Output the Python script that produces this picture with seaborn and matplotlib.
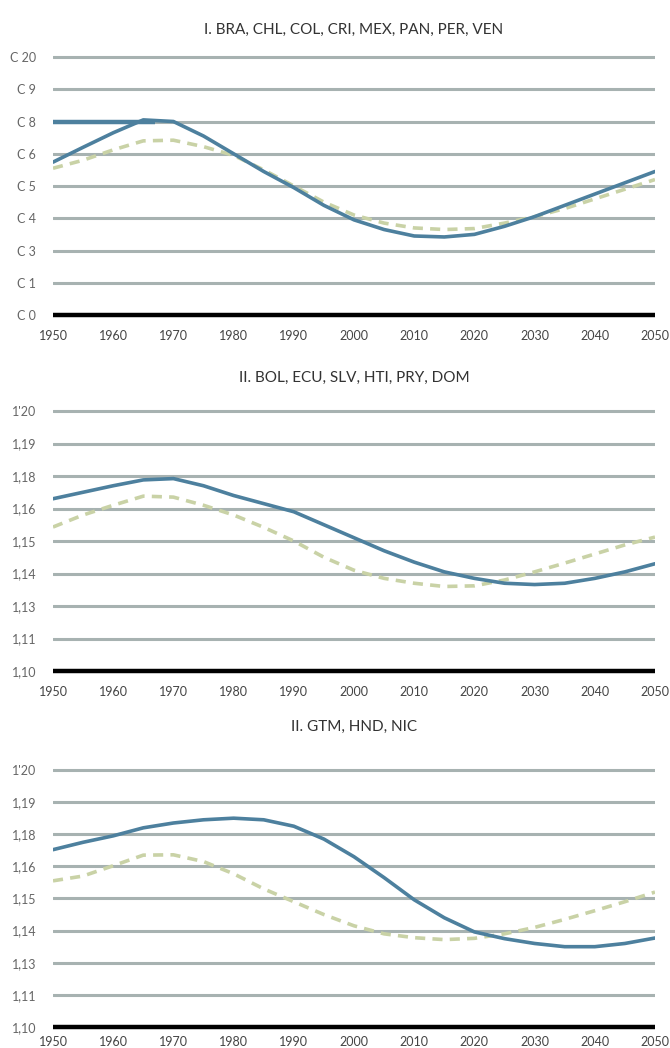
import matplotlib
matplotlib.use("Agg")
import matplotlib.pyplot as plt
import seaborn as sns
import pandas as pd

# panel titles
titles = [
    "I. BRA, CHL, COL, CRI, MEX, PAN, PER, VEN",
    "II. BOL, ECU, SLV, HTI, PRY, DOM",
    "II. GTM, HND, NIC",
]

# tick labels (as printed in the source, bottom to top)
ylabels_1 = ["C 0", "C 1", "C 3", "C 4", "C 5", "C 6", "C 8", "C 9", "C 20"]
ylabels_23 = ["1,10", "1,11", "1,13", "1,14", "1,15", "1,16", "1,18", "1,19", "1'20"]
xticks = [1950, 1960, 1970, 1980, 1990, 2000, 2010, 2020, 2030, 2040, 2050]

# values in gridline units (0 = bottom line, 8 = top line)
years = [1950, 1955, 1960, 1965, 1970, 1975, 1980, 1985, 1990, 1995, 2000,
         2005, 2010, 2015, 2020, 2025, 2030, 2035, 2040, 2045, 2050]

p1_solid = [4.74, 5.20, 5.65, 6.05, 6.00, 5.55, 5.00, 4.45, 3.95, 3.40, 2.95,
            2.65, 2.45, 2.42, 2.50, 2.75, 3.05, 3.40, 3.75, 4.10, 4.45]
p1_dash = [4.55, 4.80, 5.12, 5.40, 5.42, 5.22, 4.95, 4.50, 4.00, 3.50, 3.10,
           2.85, 2.70, 2.65, 2.68, 2.85, 3.05, 3.30, 3.60, 3.90, 4.20]

p2_solid = [5.30, 5.50, 5.70, 5.88, 5.92, 5.70, 5.40, 5.15, 4.90, 4.50, 4.10,
            3.70, 3.35, 3.05, 2.85, 2.70, 2.66, 2.70, 2.85, 3.05, 3.30]
p2_dash = [4.43, 4.80, 5.10, 5.38, 5.35, 5.10, 4.80, 4.42, 4.00, 3.50, 3.10,
           2.85, 2.70, 2.60, 2.62, 2.80, 3.05, 3.32, 3.60, 3.88, 4.12]

p3_solid = [5.52, 5.75, 5.95, 6.20, 6.35, 6.45, 6.50, 6.45, 6.25, 5.85, 5.30,
            4.65, 3.96, 3.40, 2.96, 2.75, 2.60, 2.50, 2.50, 2.60, 2.77]
p3_dash = [4.55, 4.70, 5.02, 5.35, 5.36, 5.15, 4.77, 4.30, 3.90, 3.50, 3.15,
           2.90, 2.78, 2.72, 2.76, 2.90, 3.10, 3.35, 3.62, 3.90, 4.20]

# short blue stretch over the "8" gridline in panel I
p1_flat_years = [1950, 1967]
p1_flat_level = 6

solid_color = "#4d809e"
dash_color = "#c9d2a6"
grid_color = "#a7b2b1"

sns.set_theme(style="white")
plt.rcParams["font.family"] = ["Lato", "DejaVu Sans"]

fig = plt.figure(figsize=(6.7, 10.48), dpi=100)
W, H = 670, 1048

# (top gridline px, bottom line px, ..., title px, x label pad)
panels = [
    (57, 315, p1_solid, p1_dash, ylabels_1, 30, 7),
    (411, 671, p2_solid, p2_dash, ylabels_23, 378, 7),
    (770, 1027, p3_solid, p3_dash, ylabels_23, 727, 3),
]

x0, x1 = 53, 655
for i, (top, bot, solid, dash, ylab, title_y, xpad) in enumerate(panels):
    step = (bot - top) / 8
    pad = 0.15
    ax_top = top - pad * step
    ax_bot = bot + pad * step
    ax = fig.add_axes([x0 / W, 1 - ax_bot / H, (x1 - x0) / W, (ax_bot - ax_top) / H])
    ax.set_ylim(-pad, 8 + pad)
    ax.set_xlim(1950, 2050)

    for lvl in range(1, 9):
        ax.axhline(lvl, color=grid_color, lw=2.2, zorder=1)
    ax.axhline(0, color="black", lw=3.2, zorder=4)

    df = pd.DataFrame({"year": years, "solid": solid, "dash": dash})
    sns.lineplot(data=df, x="year", y="dash", ax=ax, color=dash_color,
                 lw=2.6, dashes=False, zorder=2)
    ax.lines[-1].set_dashes((2.8, 2.0))
    sns.lineplot(data=df, x="year", y="solid", ax=ax, color=solid_color,
                 lw=2.6, zorder=3)
    if i == 0:
        ax.hlines(p1_flat_level, p1_flat_years[0], p1_flat_years[1],
                  color=solid_color, lw=3.2, zorder=3)

    ax.set_yticks(range(9))
    ax.set_yticklabels(ylab, fontsize=9, color="#666666")
    ax.set_xticks(xticks)
    ax.set_xticklabels([str(t) for t in xticks], fontsize=9, color="#444444")
    ax.tick_params(axis="y", length=0, pad=12)
    ax.tick_params(axis="x", length=0, pad=xpad)
    ax.set_xlabel("")
    ax.set_ylabel("")
    for s in ax.spines.values():
        s.set_visible(False)

    fig.text((x0 + x1) / 2 / W, 1 - title_y / H, titles[i], ha="center",
             va="center", fontsize=11, color="#333333")

fig.savefig("out.png", dpi=100)
